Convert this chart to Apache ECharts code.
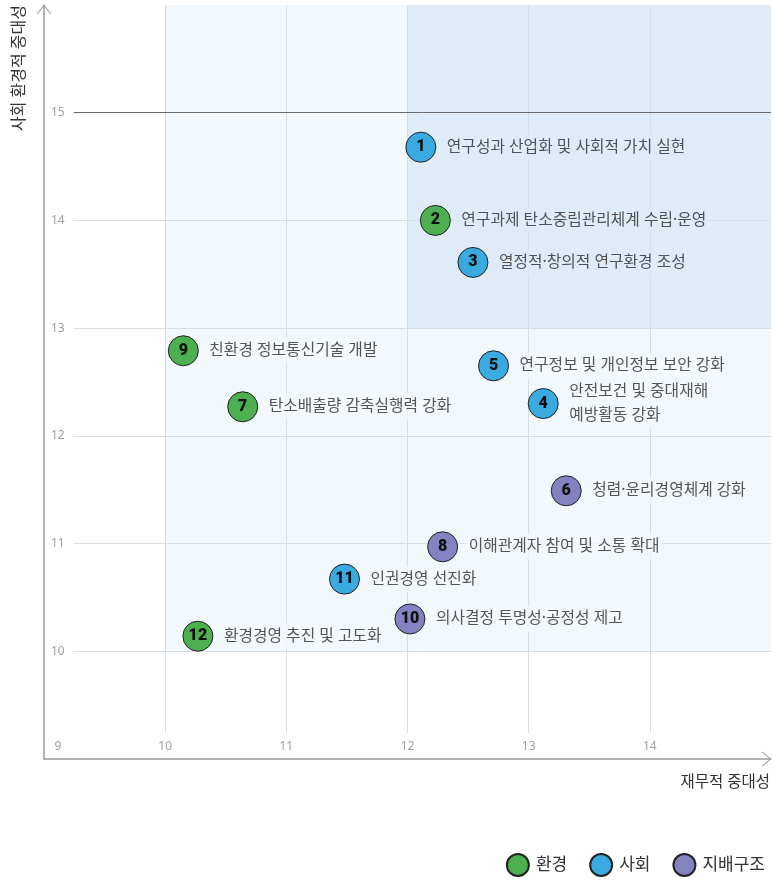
<!DOCTYPE html>
<html>
<head>
<meta charset="utf-8">
<script src="https://cdn.jsdelivr.net/npm/echarts@6/dist/echarts.min.js"></script>
<style>
html,body{margin:0;padding:0;background:#fff;}
#chart{width:774px;height:885px;}
</style>
</head>
<body>
<div id="chart"></div>
<script>
// ---- data ----
const categories = ['환경', '사회', '지배구조'];
const ids   = [1, 2, 3, 4, 5, 6, 7, 8, 9, 10, 11, 12];
const names = [
  '연구성과 산업화 및 사회적 가치 실현',
  '연구과제 탄소중립관리체계 수립·운영',
  '열정적·창의적 연구환경 조성',
  '안전보건 및 중대재해\n예방활동 강화',
  '연구정보 및 개인정보 보안 강화',
  '청렴·윤리경영체계 강화',
  '탄소배출량 감축실행력 강화',
  '이해관계자 참여 및 소통 확대',
  '친환경 정보통신기술 개발',
  '의사결정 투명성·공정성 제고',
  '인권경영 선진화',
  '환경경영 추진 및 고도화'
];
const cats  = [1, 0, 1, 1, 1, 2, 0, 2, 0, 2, 1, 0];
const xVals = [12.11, 12.23, 12.54, 13.12, 12.71, 13.31, 10.64, 12.29, 10.15, 12.02, 11.48, 10.27];
const yVals = [14.68, 14.00, 13.61, 12.30, 12.65, 11.49, 12.27, 10.97, 12.79, 10.30, 10.67, 10.14];
const xTicks = [10, 11, 12, 13, 14];
const yTicks = [10, 11, 12, 13, 14, 15];

// ---- style ----
const colors = ['#4caf50', '#3aabe0', '#8482c0'];
const lightBg = '#f3f8fd';
const darkBg = '#dfecf8';
const gridColor = '#d8dde3';
const X0 = 9, X1 = 15, Y0 = 9, Y1 = 16;
const lineStartX = 9.245, lineStartY = 9.24;
const font = '"Noto Sans", "Noto Sans CJK KR", sans-serif';
const arrowUp = 'path://M0,18 L15,0 L30,18 L28.4,19.2 L15,3.2 L1.6,19.2 Z';

function inDark(i) { return xVals[i] >= 12 && yVals[i] >= 13; }

const catSeries = categories.map((c, ci) => ({
  name: c,
  type: 'scatter',
  z: 5,
  symbol: 'circle',
  symbolSize: 30,
  itemStyle: { color: colors[ci], borderColor: '#222', borderWidth: 1, opacity: 1 },
  label: {
    show: true, position: 'inside',
    formatter: p => String(p.data.id),
    color: '#111', fontSize: 16, fontWeight: 900, fontFamily: 'Roboto, "DejaVu Sans", sans-serif'
  },
  emphasis: { disabled: true },
  data: ids.map((id, i) => ({ id, value: [xVals[i], yVals[i]], ci: cats[i] }))
           .filter(d => d.ci === ci)
}));

const nameSeries = {
  name: '_labels',
  type: 'scatter',
  z: 4,
  symbol: 'circle',
  symbolSize: 30,
  itemStyle: { color: 'rgba(0,0,0,0)' },
  silent: true,
  emphasis: { disabled: true },
  label: {
    show: true, position: 'right', distance: 8,
    formatter: '{b}',
    color: '#2b2b2b', fontSize: 15.8, fontFamily: font, lineHeight: 24,
    padding: [1, 3]
  },
  data: ids.map((id, i) => ({
    name: names[i],
    value: [xVals[i], yVals[i]],
    label: { backgroundColor: inDark(i) ? darkBg : lightBg }
  }))
};

const bgSeries = {
  name: '_bg',
  type: 'scatter',
  z: 1,
  silent: true,
  data: [],
  markArea: {
    z: 1,
    silent: true,
    label: { show: false },
    data: [
      [{ coord: [10, 10], itemStyle: { color: lightBg } }, { coord: [X1, Y1] }],
      [{ coord: [12, 13], itemStyle: { color: darkBg } }, { coord: [X1, Y1] }]
    ]
  }
};

const gridLines = [];
xTicks.forEach(v => gridLines.push([{ coord: [v, lineStartY], lineStyle: { color: gridColor, width: 1, type: 'solid' } }, { coord: [v, Y1] }]));
yTicks.forEach(v => gridLines.push([{ coord: [lineStartX, v], lineStyle: { color: v === 15 ? '#6b6b6b' : gridColor, width: 1, type: 'solid' } }, { coord: [X1, v] }]));

const lineSeries = {
  name: '_grid',
  type: 'scatter',
  z: 2,
  silent: true,
  data: [],
  markLine: {
    z: 2,
    silent: true,
    symbol: ['none', 'none'],
    label: { show: false },
    animation: false,
    data: gridLines
  }
};

const chart = echarts.init(document.getElementById('chart'), null, { renderer: 'canvas' });
chart.setOption({
  animation: false,
  backgroundColor: '#fff',
  textStyle: { fontFamily: font },
  grid: { left: 44, right: 3, top: 5, bottom: 126, containLabel: false },
  legend: {
    data: categories,
    right: 4, bottom: 3,
    icon: 'circle',
    itemWidth: 22, itemHeight: 22,
    itemGap: 22,
    textStyle: { fontSize: 17, color: '#333', fontFamily: font, padding: [0, 0, 0, 2] }
  },
  xAxis: {
    type: 'value', min: X0, max: X1, interval: 1,
    name: '재무적 중대성',
    nameLocation: 'end', nameGap: -1,
    nameTextStyle: { fontSize: 15.5, color: '#333', fontFamily: font, align: 'right', verticalAlign: 'top', padding: [16, 0, 0, 0] },
    axisLine: { show: true, lineStyle: { color: '#9a9a9a', width: 1.5 }, symbol: ['none', arrowUp], symbolSize: [15, 9.5], symbolOffset: [0, -4.5] },
    axisTick: { show: false },
    splitLine: { show: false },
    axisLabel: {
      inside: true, margin: 6, color: '#a0a0a0', fontSize: 12, showMaxLabel: false,
      formatter: v => v === 9 ? '{a|9}' : String(v),
      rich: { a: { padding: [0, 0, 0, 28], color: '#a0a0a0', fontSize: 12 } }
    }
  },
  yAxis: {
    type: 'value', min: Y0, max: Y1, interval: 1,
    name: '사회 환경적 중대성',
    nameLocation: 'end', nameGap: 0, nameRotate: 90,
    nameTextStyle: { fontSize: 16, color: '#333', fontFamily: font, align: 'right', verticalAlign: 'bottom', padding: [0, 0, 17, 0] },
    axisLine: { show: true, lineStyle: { color: '#9a9a9a', width: 1.5 }, symbol: ['none', arrowUp], symbolSize: [15, 9.5], symbolOffset: [0, -4.5] },
    axisTick: { show: false },
    splitLine: { show: false },
    axisLabel: { inside: true, margin: 7, color: '#a0a0a0', fontSize: 12, showMinLabel: false, showMaxLabel: false }
  },
  series: [bgSeries, lineSeries, nameSeries, ...catSeries]
});
</script>
</body>
</html>
